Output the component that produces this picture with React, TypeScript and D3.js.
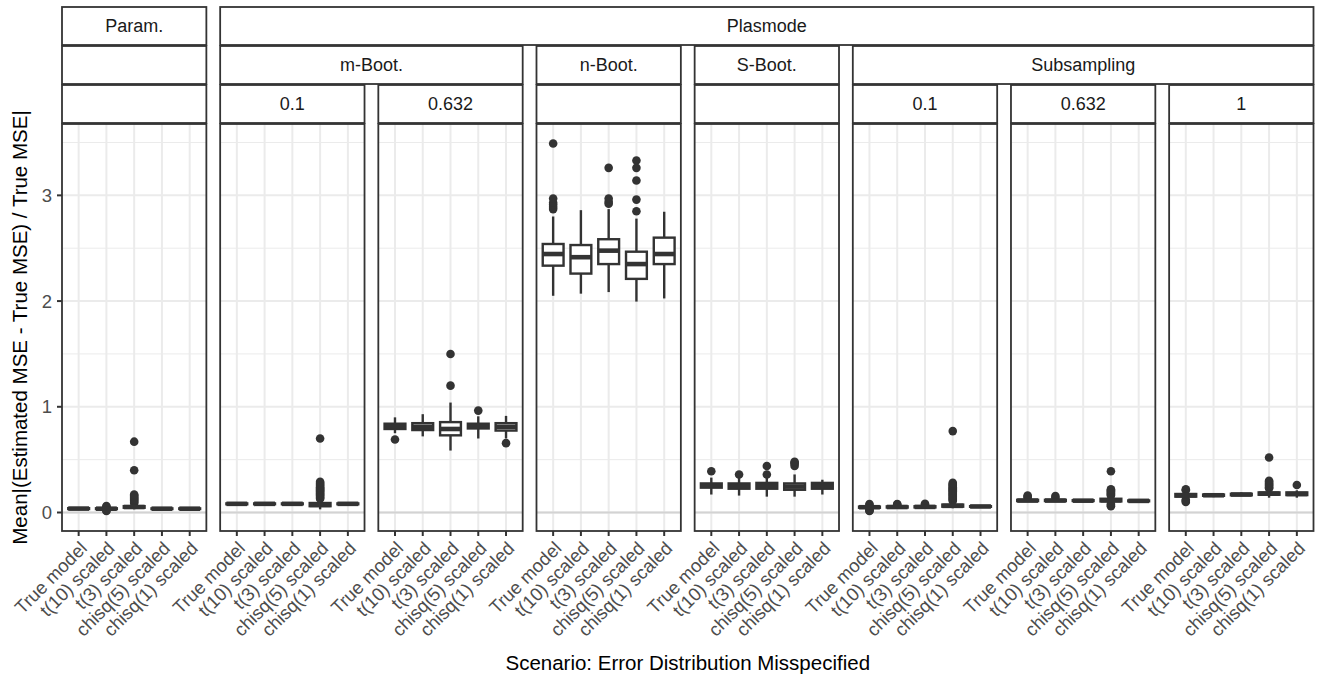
import React from "react";
import * as d3 from "d3";

// ---------- data ----------
const categories = ["True model", "t(10) scaled", "t(3) scaled", "chisq(5) scaled", "chisq(1) scaled"];

const stripRow1 = [
  { label: "Param.", from: 0, to: 0 },
  { label: "Plasmode", from: 1, to: 7 },
];
const stripRow2 = [
  { label: "", from: 0, to: 0 },
  { label: "m-Boot.", from: 1, to: 2 },
  { label: "n-Boot.", from: 3, to: 3 },
  { label: "S-Boot.", from: 4, to: 4 },
  { label: "Subsampling", from: 5, to: 7 },
];
const stripRow3 = [
  { label: "", from: 0, to: 0 },
  { label: "0.1", from: 1, to: 1 },
  { label: "0.632", from: 2, to: 2 },
  { label: "", from: 3, to: 3 },
  { label: "", from: 4, to: 4 },
  { label: "0.1", from: 5, to: 5 },
  { label: "0.632", from: 6, to: 6 },
  { label: "1", from: 7, to: 7 },
];

const yTicks = [0, 1, 2, 3];
const yMinor = [0.5, 1.5, 2.5, 3.5];

// [lower whisker, q1, median, q3, upper whisker] for each category
const paramStats = [
  [0.025, 0.033, 0.037, 0.041, 0.05],
  [0.025, 0.032, 0.036, 0.04, 0.05],
  [0.03, 0.045, 0.052, 0.06, 0.085],
  [0.028, 0.033, 0.036, 0.039, 0.045],
  [0.028, 0.033, 0.036, 0.039, 0.045],
];
const paramOutliers = [
  [],
  [0.015, 0.02, 0.055, 0.06],
  [0.09, 0.1, 0.11, 0.12, 0.13, 0.14, 0.15, 0.16, 0.17, 0.4, 0.67],
  [],
  [],
];

const mBoot01Stats = [
  [0.07, 0.078, 0.082, 0.086, 0.095],
  [0.07, 0.078, 0.082, 0.086, 0.095],
  [0.07, 0.078, 0.082, 0.086, 0.095],
  [0.03, 0.06, 0.072, 0.09, 0.12],
  [0.07, 0.078, 0.082, 0.086, 0.095],
];
const mBoot01Outliers = [
  [],
  [],
  [],
  [0.13, 0.14, 0.15, 0.16, 0.17, 0.18, 0.19, 0.2, 0.21, 0.22, 0.23, 0.24, 0.25, 0.26, 0.27, 0.28, 0.29, 0.7],
  [],
];

const mBoot0632Stats = [
  [0.75, 0.79, 0.815, 0.84, 0.9],
  [0.72, 0.78, 0.81, 0.845, 0.93],
  [0.586, 0.73, 0.79, 0.855, 1.04],
  [0.7, 0.795, 0.82, 0.84, 0.91],
  [0.7, 0.775, 0.81, 0.845, 0.914],
];
const mBoot0632Outliers = [[0.69], [], [1.2, 1.5], [0.964], [0.656]];

const nBootStats = [
  [2.05, 2.335, 2.445, 2.54, 2.8],
  [2.07, 2.26, 2.415, 2.53, 2.86],
  [2.085, 2.35, 2.477, 2.585, 2.87],
  [1.995, 2.21, 2.35, 2.467, 2.78],
  [2.025, 2.35, 2.445, 2.6, 2.845],
];
const nBootOutliers = [
  [2.87, 2.89, 2.91, 2.93, 2.97, 3.49],
  [],
  [2.92, 2.94, 2.97, 3.26],
  [2.85, 2.96, 3.14, 3.26, 3.33],
  [],
];

const sBootStats = [
  [0.17, 0.235, 0.255, 0.275, 0.33],
  [0.16, 0.225, 0.25, 0.275, 0.33],
  [0.15, 0.225, 0.25, 0.28, 0.33],
  [0.15, 0.215, 0.245, 0.275, 0.36],
  [0.17, 0.225, 0.25, 0.28, 0.31],
];
const sBootOutliers = [[0.39], [0.36], [0.36, 0.44], [0.44, 0.46, 0.47, 0.48], []];

const sub01Stats = [
  [0.03, 0.045, 0.05, 0.056, 0.065],
  [0.035, 0.047, 0.052, 0.058, 0.068],
  [0.035, 0.048, 0.053, 0.059, 0.07],
  [0.04, 0.055, 0.063, 0.075, 0.1],
  [0.05, 0.054, 0.057, 0.06, 0.064],
];
const sub01Outliers = [
  [0.015, 0.02, 0.025, 0.07, 0.08],
  [0.075, 0.08],
  [0.075, 0.082],
  [0.11, 0.12, 0.13, 0.14, 0.15, 0.16, 0.17, 0.18, 0.19, 0.2, 0.21, 0.22, 0.23, 0.24, 0.25, 0.26, 0.27, 0.28, 0.77],
  [],
];

const sub0632Stats = [
  [0.1, 0.108, 0.113, 0.12, 0.13],
  [0.1, 0.108, 0.113, 0.12, 0.13],
  [0.105, 0.109, 0.112, 0.116, 0.12],
  [0.09, 0.105, 0.115, 0.13, 0.15],
  [0.1, 0.106, 0.11, 0.114, 0.12],
];
const sub0632Outliers = [
  [0.14, 0.15, 0.16],
  [0.14, 0.155],
  [],
  [0.06, 0.07, 0.08, 0.16, 0.17, 0.18, 0.19, 0.2, 0.21, 0.22, 0.39],
  [],
];

const sub1Stats = [
  [0.13, 0.15, 0.163, 0.175, 0.2],
  [0.145, 0.158, 0.163, 0.17, 0.18],
  [0.155, 0.163, 0.17, 0.177, 0.19],
  [0.14, 0.168, 0.178, 0.19, 0.22],
  [0.14, 0.165, 0.175, 0.19, 0.21],
];
const sub1Outliers = [
  [0.1, 0.11, 0.12, 0.21, 0.22],
  [],
  [],
  [0.23, 0.24, 0.25, 0.26, 0.27, 0.28, 0.29, 0.3, 0.52],
  [0.26],
];

const panelStats = [paramStats, mBoot01Stats, mBoot0632Stats, nBootStats, sBootStats, sub01Stats, sub0632Stats, sub1Stats];
const panelOutliers = [paramOutliers, mBoot01Outliers, mBoot0632Outliers, nBootOutliers, sBootOutliers, sub01Outliers, sub0632Outliers, sub1Outliers];

const yTitle = "Mean|(Estimated MSE - True MSE) / True MSE|";
const xTitle = "Scenario: Error Distribution Misspecified";

// ---------- layout ----------
const W = 1326;
const H = 679;
const L0 = 62;
const R_END = 1313.5;
const GAP = 13.8;
const NP = 8;
const PW = (R_END - L0 - GAP * (NP - 1)) / NP;
const PT = 124;
const PB = 531;
const STRIP_TOP = 7;
const STRIP_H = 38;
const STRIP_STEP = 39;
const FONT = "'Liberation Sans', Arial, Helvetica, sans-serif";
const DARK = "#333333";
const GRID = "#EBEBEB";
const TICK_FS = 18.5;
const STRIP_FS = 18;
const TITLE_FS = 20.5;

const panelLeft = (i: number) => L0 + i * (PW + GAP);
const panelRight = (i: number) => panelLeft(i) + PW;

export default function App() {
  const y = d3.scaleLinear().domain([-0.175, 3.675]).range([PB, PT]);
  const strips = [stripRow1, stripRow2, stripRow3];

  return (
    <svg
      width={W}
      height={H}
      viewBox={`0 0 ${W} ${H}`}
      style={{ position: "absolute", left: 0, top: 0, background: "#fff" }}
      fontFamily={FONT}
    >
      <rect x={0} y={0} width={W} height={H} fill="#fff" />
      {panelStats.map((stats, pi) => {
        const l = panelLeft(pi);
        const r = panelRight(pi);
        const x = d3.scalePoint<string>().domain(categories).range([l, r]).padding(0.6);
        const step = x.step();
        const bw = step * 0.75;
        return (
          <g key={pi}>
            <rect x={l} y={PT} width={PW} height={PB - PT} fill="#fff" />
            {yMinor.map((v) => (
              <line key={"mn" + v} x1={l} x2={r} y1={y(v)} y2={y(v)} stroke={GRID} strokeWidth={1} />
            ))}
            {yTicks.map((v) => (
              <line key={"mj" + v} x1={l} x2={r} y1={y(v)} y2={y(v)} stroke={GRID} strokeWidth={2} />
            ))}
            {categories.map((c) => (
              <line key={"vg" + c} x1={x(c)} x2={x(c)} y1={PT} y2={PB} stroke={GRID} strokeWidth={2} />
            ))}
            <line x1={l} x2={r} y1={y(0)} y2={y(0)} stroke="#D3D3D3" strokeWidth={2} />
            {categories.map((c, ci) => {
              const cx = x(c) as number;
              const [lw, q1, med, q3, uw] = stats[ci];
              const outs = panelOutliers[pi][ci];
              return (
                <g key={"b" + c}>
                  {outs.map((o, oi) => (
                    <circle key={oi} cx={cx} cy={y(o)} r={4.3} fill={DARK} />
                  ))}
                  <line x1={cx} x2={cx} y1={y(uw)} y2={y(q3)} stroke={DARK} strokeWidth={2.4} />
                  <line x1={cx} x2={cx} y1={y(q1)} y2={y(lw)} stroke={DARK} strokeWidth={2.4} />
                  <rect
                    x={cx - bw / 2}
                    y={y(q3)}
                    width={bw}
                    height={Math.max(0.01, y(q1) - y(q3))}
                    fill="#fff"
                    stroke={DARK}
                    strokeWidth={2.4}
                  />
                  <line x1={cx - bw / 2} x2={cx + bw / 2} y1={y(med)} y2={y(med)} stroke={DARK} strokeWidth={4.6} />
                </g>
              );
            })}
            <rect x={l} y={PT} width={PW} height={PB - PT} fill="none" stroke={DARK} strokeWidth={1.8} />
            {categories.map((c) => (
              <line key={"xt" + c} x1={x(c)} x2={x(c)} y1={PB} y2={PB + 5} stroke={DARK} strokeWidth={2} />
            ))}
            {categories.map((c) => (
              <text
                key={"xl" + c}
                transform={`translate(${x(c)},${PB + 9}) rotate(-45)`}
                textAnchor="end"
                dy="0.72em"
                fontSize={TICK_FS}
                fill="#4D4D4D"
              >
                {c}
              </text>
            ))}
          </g>
        );
      })}
      {strips.map((row, ri) =>
        row.map((s, si) => {
          const l = panelLeft(s.from);
          const r = panelRight(s.to);
          const top = STRIP_TOP + ri * STRIP_STEP;
          return (
            <g key={`s${ri}-${si}`}>
              <rect x={l} y={top} width={r - l} height={STRIP_H} fill="#fff" stroke={DARK} strokeWidth={1.8} />
              {s.label && (
                <text
                  x={(l + r) / 2}
                  y={top + STRIP_H / 2}
                  dy="0.36em"
                  textAnchor="middle"
                  fontSize={STRIP_FS}
                  fill="#1A1A1A"
                >
                  {s.label}
                </text>
              )}
            </g>
          );
        })
      )}
      {yTicks.map((v) => (
        <g key={"yt" + v}>
          <line x1={L0 - 5} x2={L0} y1={y(v)} y2={y(v)} stroke={DARK} strokeWidth={2} />
          <text x={L0 - 10} y={y(v)} dy="0.36em" textAnchor="end" fontSize={TICK_FS} fill="#4D4D4D">
            {v}
          </text>
        </g>
      ))}
      <text
        transform={`translate(27,${(PT + PB) / 2}) rotate(-90)`}
        textAnchor="middle"
        fontSize={TITLE_FS}
        fill="#000"
      >
        {yTitle}
      </text>
      <text x={(L0 + R_END) / 2} y={670} textAnchor="middle" fontSize={TITLE_FS} fill="#000">
        {xTitle}
      </text>
    </svg>
  );
}
